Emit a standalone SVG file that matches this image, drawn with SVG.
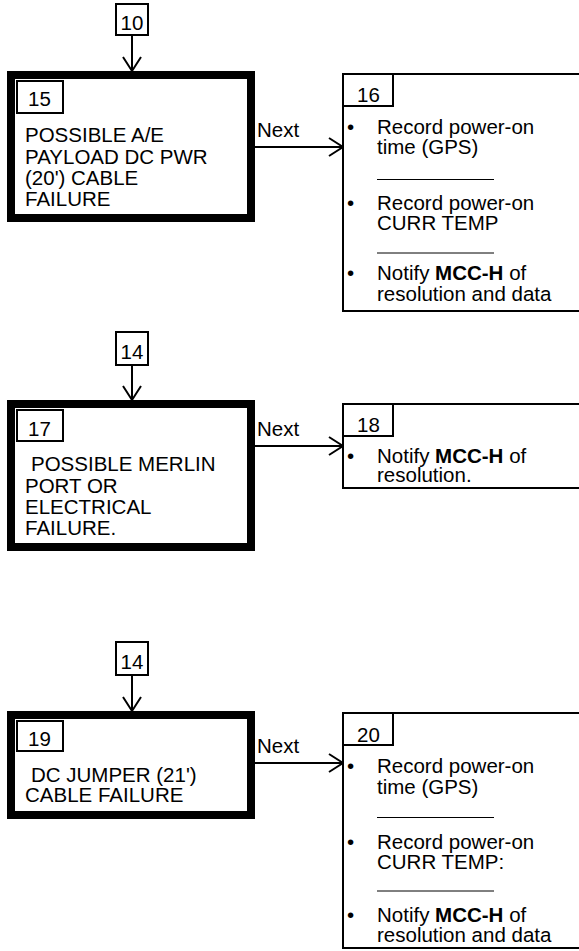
<svg xmlns="http://www.w3.org/2000/svg" width="579" height="951" viewBox="0 0 579 951">
<style>
.t{font-family:"Liberation Sans",Arial,Helvetica,sans-serif;font-size:20.5px;fill:#000}
.b{font-weight:bold}
.thin{fill:#fff;stroke:#000;stroke-width:2}
.thick{fill:#fff;stroke:#000;stroke-width:8}
.sep{stroke:#000;stroke-width:1}
.conn{stroke:#000;stroke-width:2;fill:none}
</style>
<defs>
<marker id="arr" markerUnits="userSpaceOnUse" markerWidth="20" markerHeight="22" refX="15" refY="10" orient="auto" overflow="visible">
<path d="M1,1 L15,10 L1,19" fill="none" stroke="#000" stroke-width="2"/>
</marker>
</defs>
<rect width="579" height="951" fill="#fff"/>

<g id="connectors">
<line class="conn" x1="132" y1="35" x2="132" y2="71" marker-end="url(#arr)"/>
<line class="conn" x1="255" y1="147" x2="343" y2="147" marker-end="url(#arr)"/>
<line class="conn" x1="132" y1="365" x2="132" y2="400" marker-end="url(#arr)"/>
<line class="conn" x1="255" y1="446" x2="343" y2="446" marker-end="url(#arr)"/>
<line class="conn" x1="132" y1="675" x2="132" y2="711" marker-end="url(#arr)"/>
<line class="conn" x1="255" y1="763" x2="343" y2="763" marker-end="url(#arr)"/>
<text class="t" x="257" y="137">Next</text>
<text class="t" x="257" y="436">Next</text>
<text class="t" x="257" y="753">Next</text>
</g>

<g id="n10">
<rect class="thin" x="116" y="4" width="32" height="31"/>
<text class="t" x="120.5" y="29.5">10</text>
</g>

<g id="n15">
<rect class="thick" x="11" y="75" width="240" height="143"/>
<rect class="thin" x="17" y="81" width="46" height="32"/>
<text class="t" x="28" y="106">15</text>
<text class="t" x="25" y="142">POSSIBLE A/E</text>
<text class="t" x="25" y="163.5">PAYLOAD DC PWR</text>
<text class="t" x="25" y="185">(20') CABLE</text>
<text class="t" x="25" y="205.5">FAILURE</text>
</g>

<g id="n16">
<rect class="thin" x="343" y="74" width="250" height="237"/>
<rect class="thin" x="343" y="74" width="50" height="32"/>
<text class="t" x="357" y="102">16</text>
<text class="t" x="347" y="133.5">•</text>
<text class="t" x="377" y="133.5">Record power-on</text>
<text class="t" x="377" y="154">time (GPS)</text>
<line class="sep" x1="377" y1="179.5" x2="494" y2="179.5"/>
<text class="t" x="347" y="209.5">•</text>
<text class="t" x="377" y="209.5">Record power-on</text>
<text class="t" x="377" y="230">CURR TEMP</text>
<line class="sep" x1="377" y1="253" x2="494" y2="253"/>
<text class="t" x="347" y="280">•</text>
<text class="t" x="377" y="280">Notify <tspan class="b">MCC-H</tspan> of</text>
<text class="t" x="377" y="300.5">resolution and data</text>
</g>

<g id="n14a">
<rect class="thin" x="116" y="332" width="32" height="33"/>
<text class="t" x="120.5" y="358.5">14</text>
</g>

<g id="n17">
<rect class="thick" x="11" y="404" width="240" height="143"/>
<rect class="thin" x="17" y="410" width="46" height="31"/>
<text class="t" x="28" y="436">17</text>
<text class="t" x="31" y="471">POSSIBLE MERLIN</text>
<text class="t" x="25" y="492.5">PORT OR</text>
<text class="t" x="25" y="514">ELECTRICAL</text>
<text class="t" x="25" y="534.5">FAILURE.</text>
</g>

<g id="n18">
<rect class="thin" x="343" y="404" width="250" height="84"/>
<rect class="thin" x="343" y="404" width="50" height="32"/>
<text class="t" x="357" y="432">18</text>
<text class="t" x="347" y="463">•</text>
<text class="t" x="377" y="463">Notify <tspan class="b">MCC-H</tspan> of</text>
<text class="t" x="377" y="482">resolution.</text>
</g>

<g id="n14b">
<rect class="thin" x="116" y="642" width="32" height="33"/>
<text class="t" x="120.5" y="668.5">14</text>
</g>

<g id="n19">
<rect class="thick" x="11" y="715" width="240" height="100"/>
<rect class="thin" x="17" y="721" width="46" height="30"/>
<text class="t" x="28" y="746">19</text>
<text class="t" x="31" y="781.5">DC JUMPER (21')</text>
<text class="t" x="25" y="801.5">CABLE FAILURE</text>
</g>

<g id="n20">
<rect class="thin" x="343" y="713" width="250" height="235"/>
<rect class="thin" x="343" y="713" width="50" height="32"/>
<text class="t" x="357" y="742">20</text>
<text class="t" x="347" y="773">•</text>
<text class="t" x="377" y="773">Record power-on</text>
<text class="t" x="377" y="793.5">time (GPS)</text>
<line class="sep" x1="377" y1="817.5" x2="494" y2="817.5"/>
<text class="t" x="347" y="848.5">•</text>
<text class="t" x="377" y="848.5">Record power-on</text>
<text class="t" x="377" y="868.5">CURR TEMP:</text>
<line class="sep" x1="377" y1="891" x2="494" y2="891"/>
<text class="t" x="347" y="922">•</text>
<text class="t" x="377" y="922">Notify <tspan class="b">MCC-H</tspan> of</text>
<text class="t" x="377" y="942">resolution and data</text>
</g>
</svg>
